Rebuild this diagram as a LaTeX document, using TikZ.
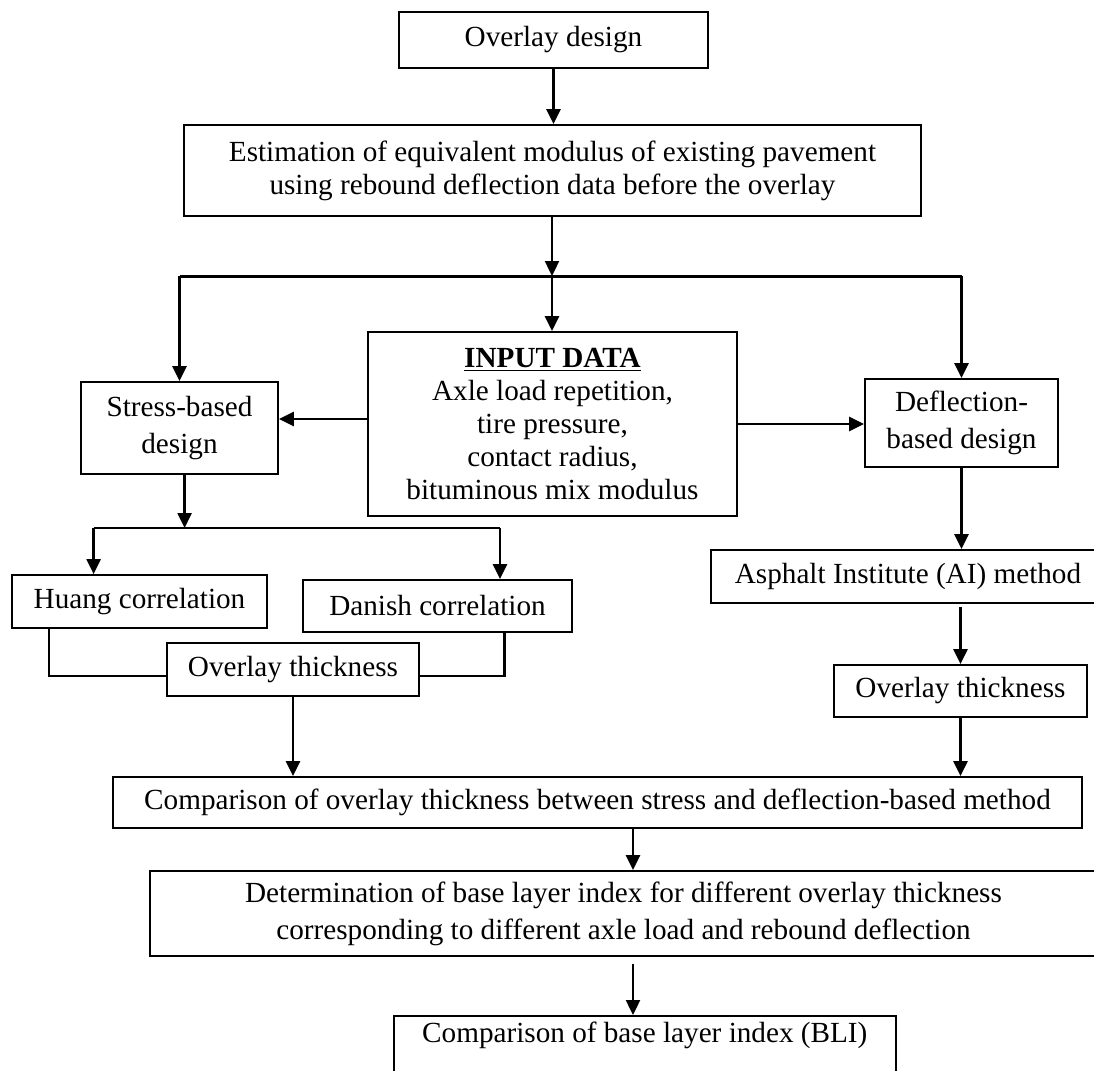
\documentclass[tikz,border=0pt]{standalone}
\usepackage{fontspec}
\setmainfont{Liberation Serif}
\usetikzlibrary{arrows.meta}

\begin{document}
\begin{tikzpicture}[x=0.5pt,y=-0.5pt,>={Triangle[length=7.5pt,width=7pt]}]
    \tikzset{stage/.style={draw,line width=0.9pt,align=center,inner sep=1pt,font=\fontsize{14.6}{16.6}\selectfont},
      link/.style={->,line width=1.2pt},
      wire/.style={line width=1.2pt}}
    \useasboundingbox (0,0) rectangle (1094,1071);
    \clip (0,0) rectangle (1094,1071);
    % boxes
    \node[stage,minimum width=154.5pt,minimum height=28pt] (design) at (553.5,40) {Overlay design};
    \node[stage,minimum width=368.5pt,minimum height=45.5pt] (est) at (552.5,170.5) {Estimation of equivalent modulus of existing pavement\\using rebound deflection data before the overlay};
    \node[stage,minimum width=98.5pt,minimum height=46pt] (stress) at (179.5,428) {Stress-based\\[2pt]design};
    \node[stage,minimum width=184.5pt,minimum height=92pt] (input) at (552.5,424) {\underline{\textbf{INPUT DATA}}\\Axle load repetition,\\tire pressure,\\contact radius,\\bituminous mix modulus};
    \node[stage,minimum width=96.5pt,minimum height=44pt] (defl) at (961.5,423) {Deflection-\\[2pt]based design};
    \node[stage,minimum width=197pt,minimum height=26.5pt] (ai) at (908,576.5) {Asphalt Institute (AI) method};
    \node[stage,minimum width=127.5pt,minimum height=26.5pt] (huang) at (139.5,601.5) {Huang correlation};
    \node[stage,minimum width=134.5pt,minimum height=26pt] (danish) at (437.5,606) {Danish correlation};
    \node[stage,minimum width=126pt,minimum height=26.5pt] (ovL) at (293,669.5) {Overlay thickness};
    \node[stage,minimum width=126.5pt,minimum height=26pt] (ovR) at (960.5,691) {Overlay thickness};
    \node[stage,minimum width=484.5pt,minimum height=25.5pt] (comp) at (597.5,802.5) {Comparison of overlay thickness between stress and deflection-based method};
    \node[stage,minimum width=473.5pt,minimum height=42.5pt] (det) at (623.5,913.5) {Determination of base layer index for different overlay thickness\\[2pt]corresponding to different axle load and rebound deflection};
    \node[stage,anchor=north,minimum width=251.2pt,inner ysep=3pt,text depth=40pt] (last) at (644.8,1015) {Comparison of base layer index (BLI)};
    % split points
    \coordinate (split) at (552,276);
    \coordinate (fork) at (184.6,528);
    \coordinate (forkL) at (93.6,528);
    \coordinate (forkR) at (500,528);
    \coordinate (joinL) at (49,676);
    \coordinate (joinR) at (504.6,676);
    \coordinate (spine) at (633,0);
    % connectors
    \draw[link] (design.south) -- (design.south |- est.north);
    \draw[link] (est.south -| split) -- (split);
    \draw[line width=1.5pt] (stress.north |- split) -- (defl.north |- split);
    \draw[link] (stress.north |- split) -- (stress.north);
    \draw[link] (split) -- (split |- input.north);
    \draw[link] (defl.north |- split) -- (defl.north);
    \draw[link] ([yshift=2.5pt]input.west) -- ([yshift=2.5pt]input.west -| stress.east);
    \draw[link] (input.east) -- (input.east -| defl.west);
    \draw[link] (defl.south) -- (defl.south |- ai.north);
    \draw[link,shorten <=1.5pt] (ovR.north |- ai.south) -- (ovR.north);
    \draw[link] (ovR.south) -- (ovR.south |- comp.north);
    \draw[link] (stress.south -| fork) -- (fork);
    \draw[wire] (forkL) -- (forkR);
    \draw[link] (forkL) -- (forkL |- huang.north);
    \draw[link] (forkR) -- (forkR |- danish.north);
    \draw[wire] (joinL |- huang.south) -- (joinL) -- (ovL.west |- joinL);
    \draw[wire] (joinR |- danish.south) -- (joinR) -- (ovL.east |- joinR);
    \draw[link] (ovL.south) -- (ovL.south |- comp.north);
    \draw[link] (comp.south -| spine) -- (det.north -| spine);
    \draw[link,shorten <=3.5pt] (det.south -| spine) -- (last.north -| spine);
\end{tikzpicture}
\end{document}
